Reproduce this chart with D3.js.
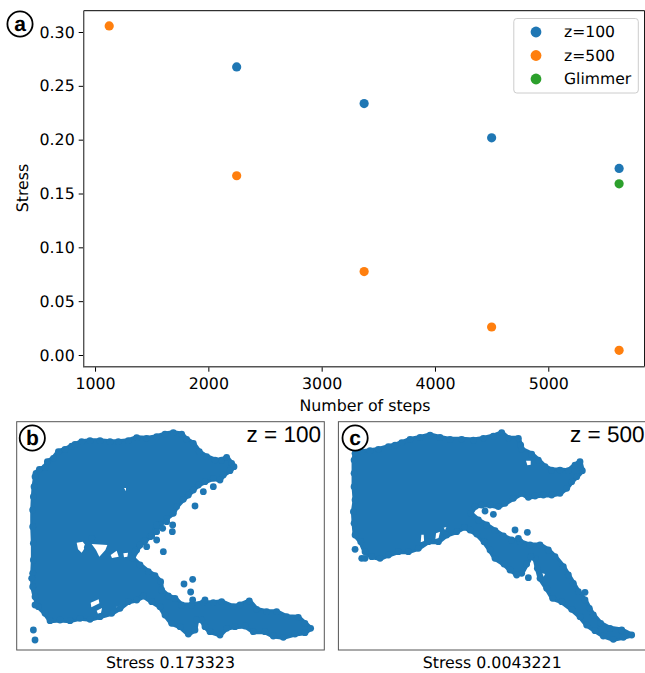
<!DOCTYPE html>
<html>
<head>
<meta charset="utf-8">
<script src="https://cdn.jsdelivr.net/npm/d3@7"></script>
<style>
  html, body { margin: 0; padding: 0; background: #fff; overflow: hidden; }
  svg { display: block; }
  text { font-family: "DejaVu Sans", sans-serif; fill: #000; text-rendering: geometricPrecision; }
</style>
</head>
<body>
<svg id="chart" width="645" height="673"></svg>
<script>
const blue = "#1f77b4", orange = "#ff7f0e", green = "#2ca02c";

// panel a
const stepsZ100 = [2250, 3375, 4500, 5625];
const stressZ100 = [0.2676, 0.2335, 0.2017, 0.1733];
const stepsZ500 = [1125, 2250, 3375, 4500, 5625];
const stressZ500 = [0.3056, 0.1665, 0.0775, 0.026, 0.0043];
const stepsGlimmer = [5625];
const stressGlimmer = [0.159];
const xTicks = [1000, 2000, 3000, 4000, 5000];
const yTicks = [0, 0.05, 0.1, 0.15, 0.2, 0.25, 0.3];
const legendLabels = ["z=100", "z=500", "Glimmer"];

// panels b, c: the mass of points overlaps, so only its rim is read point by point.
// Units have no axis in the picture, these are just reading units across each frame.
const rimB = [[108,190],[118,178],[135,172],[142,155],[160,145],[175,125],[195,118],[215,108],[225,103],[245,95],[270,92],[300,92],[330,95],[355,95],[385,92],[410,83],[440,85],[470,80],[495,72],[520,68],[545,72],[560,88],[580,100],[598,125],[620,140],[645,150],[665,150],[680,142],[695,160],[702,170],[690,182],[670,195],[660,210],[640,205],[615,215],[595,225],[580,240],[565,255],[550,268],[530,290],[520,310],[500,325],[480,345],[465,365],[450,380],[430,395],[410,420],[398,445],[420,465],[445,485],[465,497],[482,515],[485,540],[505,558],[525,565],[545,585],[575,585],[610,578],[640,578],[665,575],[700,590],[720,585],[748,573],[770,598],[800,605],[830,605],[860,620],[895,622],[915,640],[932,655],[915,668],[885,672],[850,682],[820,678],[795,665],[760,665],[735,648],[705,650],[680,655],[660,675],[630,665],[615,650],[605,630],[590,630],[585,660],[565,672],[540,650],[515,640],[495,615],[480,590],[455,575],[430,558],[410,570],[385,575],[360,595],[335,610],[300,620],[270,628],[240,625],[210,632],[180,630],[150,632],[135,610],[115,590],[105,560],[98,530],[98,490],[100,450],[100,400],[98,350],[98,300],[100,260],[102,230]];
const holesB = [
  [[230,398],[248,395],[258,408],[245,428],[234,418]],
  [[275,402],[322,405],[316,420],[298,440],[288,420]],
  [[332,435],[350,422],[356,440],[336,444]],
  [[370,430],[384,428],[382,440],[372,442]],
  [[272,578],[296,568],[298,580],[274,592]],
  [[290,602],[306,594],[303,608],[294,612]],
  [[350,590],[372,582],[358,600],[352,604]],
  [[372,234],[378,234],[378,244]]
];
const extraB = [[95,505],[100,660],[105,690],[552,522],[578,508],[572,546],[578,570],[585,288],[490,425],[518,345],[517,365],[440,410],[470,390],[488,355],[610,245],[640,230],[615,570],[262,412],[275,385],[105,200],[105,585],[470,345],[500,335],[455,378],[420,405],[435,392],[470,365],[405,425]];

const rimC = [[75,130],[95,125],[120,122],[145,118],[175,110],[195,105],[215,98],[240,88],[270,82],[300,75],[330,82],[360,88],[395,88],[430,90],[460,85],[490,78],[515,68],[535,85],[565,85],[572,105],[575,118],[605,132],[625,150],[645,170],[665,180],[690,180],[715,182],[735,165],[750,155],[757,182],[740,200],[725,215],[710,235],[690,250],[665,255],[640,255],[615,258],[595,262],[575,250],[550,265],[525,280],[505,290],[480,285],[455,285],[435,290],[422,310],[445,330],[470,345],[495,362],[520,378],[545,390],[570,395],[600,405],[630,405],[655,420],[675,440],[700,470],[715,495],[730,520],[745,545],[765,570],[778,595],[790,615],[812,640],[840,655],[875,660],[905,675],[880,682],[850,688],[820,678],[795,662],[770,645],[750,620],[725,598],[695,575],[668,565],[650,535],[630,505],[622,475],[615,445],[602,440],[590,462],[575,490],[558,490],[540,480],[522,462],[495,445],[480,420],[462,395],[440,372],[420,360],[403,352],[380,365],[350,375],[325,395],[295,395],[265,415],[235,425],[205,425],[175,435],[150,445],[125,440],[105,425],[92,395],[75,375],[72,340],[70,305],[75,270],[72,230],[72,190],[72,150]];
const holesC = [
  [[588,152],[602,152],[602,164],[592,166]],
  [[274,374],[281,374],[282,393],[272,397]],
  [[318,370],[330,365],[325,386],[316,388]],
  [[341,353],[349,351],[345,360]],
  [[637,490],[645,492],[641,500]]
];
const extraC = [[75,418],[95,445],[105,445],[465,303],[490,313],[555,360],[592,367],[565,385],[595,503],[560,495],[765,547]];

const svg = d3.select("#chart");

// panel a
const x = d3.scaleLinear().domain([900, 5850]).range([83.7, 644.6]);
const y = d3.scaleLinear().domain([0, 0.3]).range([355, 32]);

const xAxis = d3.axisBottom(x).tickValues(xTicks).tickFormat(d3.format("d")).tickSize(5).tickPadding(6);
const yAxis = d3.axisLeft(y).tickValues(yTicks).tickFormat(d3.format(".2f")).tickSize(5).tickPadding(4);

const gx = svg.append("g").attr("transform", "translate(0,366.7)").call(xAxis);
const gy = svg.append("g").attr("transform", "translate(83.7,0)").call(yAxis);
gx.selectAll("text").attr("font-size", 15.8);
gy.selectAll("text").attr("font-size", 15.8);
svg.selectAll(".domain").remove();
svg.selectAll(".tick line").attr("stroke", "#000").attr("stroke-width", 1);

const spines = svg.append("g").attr("fill", "none");
spines.append("path").attr("d", "M83.7,10.7H644.6V366.7").attr("stroke", "#000").attr("stroke-width", 1);
spines.append("path").attr("d", "M83.7,10.7V366.7H644.6").attr("stroke", "#555").attr("stroke-width", 1.4);

svg.append("text").attr("x", 365).attr("y", 411).attr("text-anchor", "middle").attr("font-size", 15.8).text("Number of steps");
svg.append("text").attr("transform", "translate(28,188) rotate(-90)").attr("text-anchor", "middle").attr("font-size", 15.8).text("Stress");

function scatter(steps, values, color) {
  svg.append("g").selectAll("circle")
    .data(steps)
    .join("circle")
    .attr("cx", d => x(d))
    .attr("cy", (d, i) => y(values[i]))
    .attr("r", 4.6)
    .attr("fill", color);
}
scatter(stepsZ100, stressZ100, blue);
scatter(stepsZ500, stressZ500, orange);
scatter(stepsGlimmer, stressGlimmer, green);

// legend
svg.append("rect").attr("x", 513.8).attr("y", 18.5).attr("width", 124.5).attr("height", 74.5).attr("rx", 3)
  .attr("fill", "#fff").attr("fill-opacity", 0.8).attr("stroke", "#ccc");
const legendY = d3.scalePoint().domain(legendLabels).range([32, 79]);
const legendColor = d3.scaleOrdinal().domain(legendLabels).range([blue, orange, green]);
legendLabels.forEach(d => {
  svg.append("circle").attr("cx", 536).attr("cy", legendY(d)).attr("r", 5.4).attr("fill", legendColor(d));
  svg.append("text").attr("x", 564).attr("y", legendY(d) + 5.4).attr("font-size", 15.6).text(d);
});

// panels b and c
function cloud(left, width, rim, holes, extra, title, caption, letter, domainX, titleRight) {
  const top = 421.7, height = 228.3;
  const px = d3.scaleLinear().domain(domainX).range([left, left + width]);
  const py = d3.scaleLinear().domain([35, 720]).range([top, top + height]);
  const line = d3.line().x(d => px(d[0])).y(d => py(d[1])).curve(d3.curveLinearClosed);

  const g = svg.append("g");
  // rim wide enough to reach the outer edge of the points
  g.append("path").attr("d", line(rim)).attr("fill", "none").attr("stroke", blue).attr("stroke-width", 5).attr("stroke-linejoin", "round");
  g.append("path")
    .attr("d", [rim].concat(holes).map(line).join(""))
    .attr("fill", blue).attr("fill-rule", "evenodd");
  g.selectAll("circle").data(rim.concat(extra)).join("circle")
    .attr("cx", d => px(d[0])).attr("cy", d => py(d[1])).attr("r", 3.4).attr("fill", blue);

  svg.append("rect").attr("x", left).attr("y", top).attr("width", width).attr("height", height)
    .attr("fill", "none").attr("stroke", "#555").attr("stroke-width", 1);
  svg.append("text").attr("x", titleRight).attr("y", 441.5).attr("text-anchor", "end")
    .style("font-family", "'Liberation Sans', sans-serif").attr("font-size", 22.5).text(title);
  svg.append("text").attr("x", left + width / 2).attr("y", 668).attr("text-anchor", "middle")
    .attr("font-size", 15.8).text(caption);
  badge(left + (letter == "b" ? 15.6 : 16.7), 438, letter);
}

function badge(cx, cy, letter) {
  svg.append("circle").attr("cx", cx).attr("cy", cy).attr("r", 12.6)
    .attr("fill", "#fff").attr("stroke", "#000").attr("stroke-width", 1.8);
  svg.append("text").attr("x", cx).attr("y", cy + 7).attr("text-anchor", "middle")
    .style("font-family", "'Liberation Sans', sans-serif").style("font-weight", "bold")
    .attr("font-size", 21).text(letter);
}

cloud(16.7, 307.6, rimB, holesB, extraB, "z = 100", "Stress 0.173323", "b", [50, 973], 321);
cloud(338.4, 307.6, rimC, holesC, extraC, "z = 500", "Stress 0.0043221", "c", [25, 948], 644.5);
badge(20, 24, "a");
</script>
</body>
</html>
